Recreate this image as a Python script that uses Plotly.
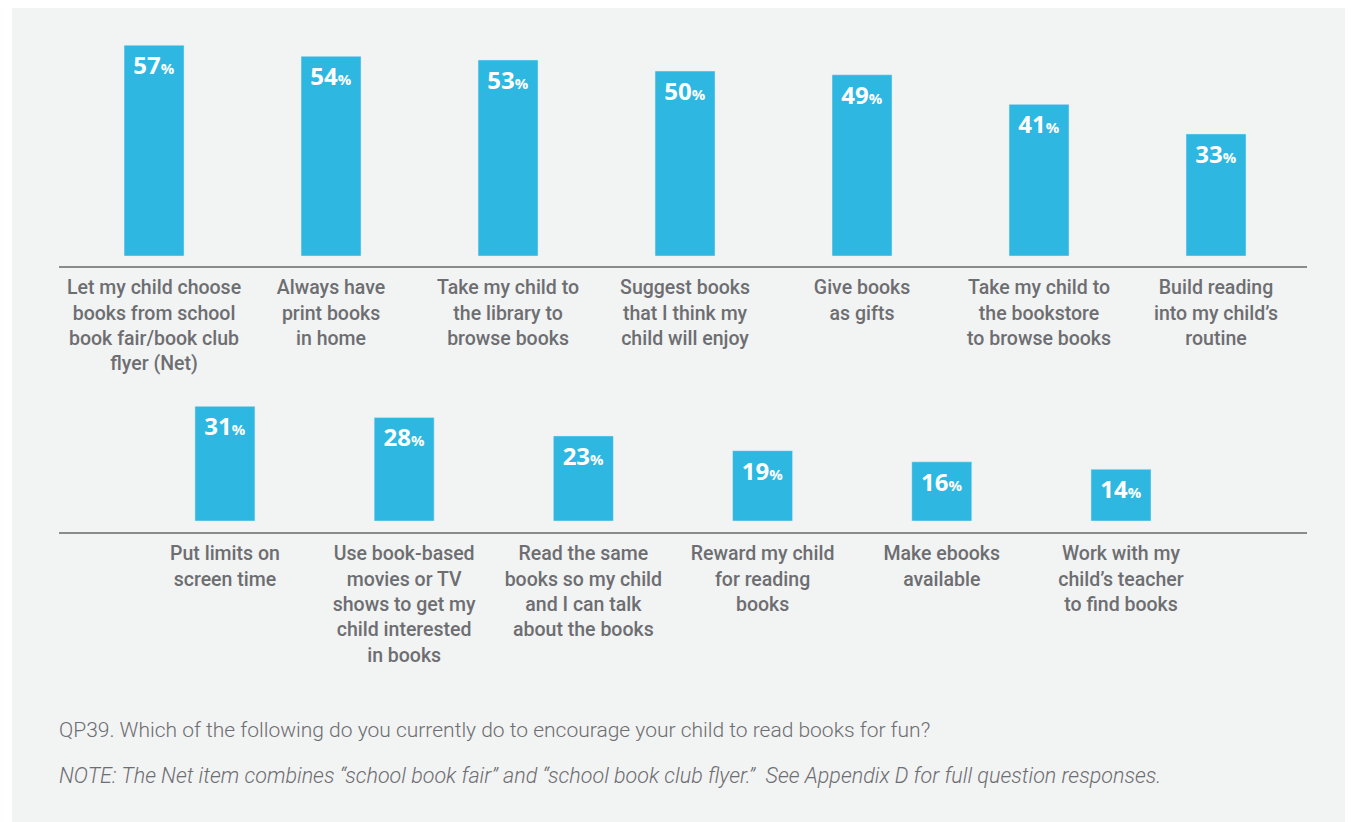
import plotly.graph_objects as go

# top row
top_labels = [
    "Let my child choose<br>books from school<br>book fair/book club<br>flyer (Net)",
    "Always have<br>print books<br>in home",
    "Take my child to<br>the library to<br>browse books",
    "Suggest books<br>that I think my<br>child will enjoy",
    "Give books<br>as gifts",
    "Take my child to<br>the bookstore<br>to browse books",
    "Build reading<br>into my child’s<br>routine",
]
top_values = [57, 54, 53, 50, 49, 41, 33]

# bottom row
bottom_labels = [
    "Put limits on<br>screen time",
    "Use book-based<br>movies or TV<br>shows to get my<br>child interested<br>in books",
    "Read the same<br>books so my child<br>and I can talk<br>about the books",
    "Reward my child<br>for reading<br>books",
    "Make ebooks<br>available",
    "Work with my<br>child’s teacher<br>to find books",
]
bottom_values = [31, 28, 23, 19, 16, 14]

question = "QP39. Which of the following do you currently do to encourage your child to read books for fun?"
note = "NOTE: The Net item combines “school book fair” and “school book club flyer.”  See Appendix D for full question responses."

BAR = "#2eb7e0"
TXT = "#6d6e71"
# page has an 8px body margin, so the figure is a bit smaller than the window
OFF = 8
W, H = 1353 - OFF, 822 - OFF


def fx(px):
    return (px - OFF) / W


def fy(py):
    return (H - (py - OFF)) / H


def pct(v):
    return "<b>%d<span style='font-size:15px'>%%</span></b>" % v


fig = go.Figure()
fig.add_trace(go.Bar(
    x=list(range(len(top_values))), y=top_values, xaxis="x", yaxis="y",
    marker_color=BAR, width=0.339,
    text=[pct(v) for v in top_values], textposition="inside",
    insidetextanchor="end", constraintext="none",
    textfont=dict(family="Open Sans", size=24, color="white"),
    hoverinfo="skip",
))
fig.add_trace(go.Bar(
    x=list(range(len(bottom_values))), y=bottom_values, xaxis="x2", yaxis="y2",
    marker_color=BAR, width=0.335,
    text=[pct(v) for v in bottom_values], textposition="inside",
    insidetextanchor="end", constraintext="none",
    textfont=dict(family="Open Sans", size=24, color="white"),
    hoverinfo="skip",
))

axis_common = dict(showgrid=False, zeroline=False, ticks="", fixedrange=True)
tickfont = dict(family="Roboto", size=19.5, color=TXT, weight=500)

fig.update_layout(
    width=W, height=H,
    margin=dict(l=0, r=0, t=0, b=0),
    paper_bgcolor="#f2f3f3",
    plot_bgcolor="rgba(0,0,0,0)",
    showlegend=False,
    xaxis=dict(axis_common, domain=[fx(59), fx(1307)], range=[-0.537, 6.514],
               tickmode="array", tickvals=list(range(len(top_labels))), ticktext=top_labels,
               tickfont=tickfont, showline=True, linecolor="#8a8b8d", linewidth=2,
               ticklabelstandoff=3, anchor="y"),
    yaxis=dict(axis_common, domain=[fy(266), fy(40)], range=[-2.7, 58.4],
               showticklabels=False, anchor="x"),
    xaxis2=dict(axis_common, domain=[fx(59), fx(1307)], range=[-0.926, 6.038],
                tickmode="array", tickvals=list(range(len(bottom_labels))), ticktext=bottom_labels,
                tickfont=tickfont, showline=True, linecolor="#8a8b8d", linewidth=2,
                ticklabelstandoff=3, anchor="y2"),
    yaxis2=dict(axis_common, domain=[fy(532), fy(400)], range=[-2.97, 32.7],
                showticklabels=False, anchor="x2"),
    # white strip on the left of the panel
    shapes=[dict(type="rect", xref="paper", yref="paper", x0=0, x1=fx(12), y0=0, y1=1,
                 fillcolor="white", line_width=0, layer="below")],
    annotations=[
        dict(text=question, xref="paper", yref="paper", x=fx(57), y=fy(730),
             xanchor="left", yanchor="middle", showarrow=False,
             font=dict(family="Roboto", size=21, color=TXT, weight=300)),
        dict(text="<i>" + note + "</i>", xref="paper", yref="paper", x=fx(57), y=fy(775),
             xanchor="left", yanchor="middle", showarrow=False,
             font=dict(family="Roboto", size=21.5, color=TXT, weight=300)),
    ],
)

fig.write_html("out.html")
